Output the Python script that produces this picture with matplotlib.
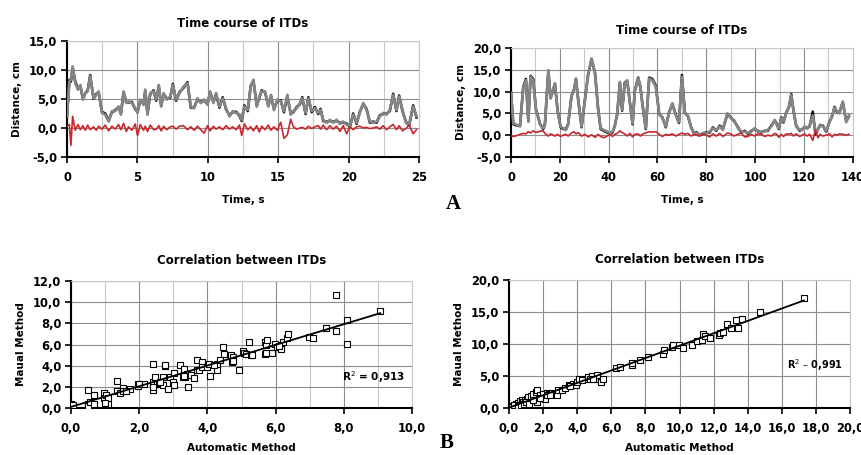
import numpy as np
import matplotlib
matplotlib.use('Agg')
import matplotlib.pyplot as plt
from matplotlib.ticker import MultipleLocator, FuncFormatter

# ---- panel A, left: 25 s recording ----
t_a = [0.00, 0.17, 0.28, 0.40, 0.59, 0.78, 0.95, 1.13, 1.30, 1.47,
       1.65, 1.89, 2.08, 2.25, 2.48, 2.72, 2.96, 3.19, 3.43, 3.66,
       3.83, 4.02, 4.21, 4.37, 4.61, 4.85, 5.01, 5.20, 5.44, 5.56,
       5.72, 5.91, 6.15, 6.34, 6.52, 6.69, 6.86, 7.09, 7.33, 7.52,
       7.75, 7.99, 8.27, 8.56, 8.79, 9.03, 9.27, 9.50, 9.74, 9.98,
       10.17, 10.40, 10.59, 10.83, 11.06, 11.30, 11.54, 11.77, 12.01, 12.25,
       12.41, 12.60, 12.84, 13.05, 13.24, 13.48, 13.66, 13.83, 14.07, 14.30,
       14.49, 14.70, 14.94, 15.18, 15.41, 15.65, 15.89, 16.08, 16.31, 16.55,
       16.71, 16.95, 17.14, 17.38, 17.61, 17.85, 18.01, 18.20, 18.44, 18.68,
       18.91, 19.15, 19.39, 19.62, 19.86, 20.09, 20.33, 20.57, 20.80, 21.04,
       21.28, 21.51, 21.75, 21.99, 22.22, 22.46, 22.70, 22.93, 23.17, 23.40,
       23.59, 23.83, 24.07, 24.30, 24.59, 24.82]
gray_a = [2.0, 8.0, 8.3, 10.6, 7.7, 6.6, 7.4, 4.9, 6.0, 6.3,
          8.9, 5.1, 5.7, 6.3, 2.6, 2.3, 1.1, 2.9, 2.9, 3.7,
          2.3, 6.3, 4.3, 4.6, 4.3, 3.4, 2.6, 4.9, 4.0, 6.6,
          2.3, 6.0, 6.3, 4.9, 7.4, 3.7, 6.0, 4.9, 5.4, 7.4,
          4.9, 6.0, 7.1, 7.7, 3.7, 3.4, 5.1, 4.3, 4.9, 4.0,
          6.3, 4.3, 6.0, 3.7, 5.1, 3.4, 2.0, 2.9, 2.6, 2.3,
          1.4, 3.7, 3.1, 7.1, 8.3, 3.7, 5.4, 6.3, 6.3, 3.7,
          5.7, 3.1, 4.9, 4.6, 2.9, 5.7, 2.3, 2.9, 3.4, 4.3,
          5.1, 2.6, 5.1, 2.9, 3.4, 2.6, 3.1, 1.4, 0.9, 1.4,
          0.9, 1.4, 0.7, 1.1, 0.6, 0.3, 2.3, 0.9, 2.6, 4.3,
          3.1, 1.1, 0.9, 1.1, 2.0, 2.6, 2.3, 3.1, 5.7, 3.1,
          5.4, 3.1, 0.9, 0.6, 3.7, 2.0]
black_a = [2.0, 8.3, 8.0, 10.4, 8.0, 6.8, 7.2, 5.1, 6.0, 6.5,
           9.1, 5.0, 5.9, 6.1, 2.8, 2.5, 1.3, 2.7, 3.1, 3.6,
           2.5, 6.1, 4.5, 4.4, 4.5, 3.2, 2.8, 4.7, 4.2, 6.4,
           2.5, 5.8, 6.5, 4.7, 7.2, 3.9, 5.8, 5.1, 5.2, 7.6,
           4.7, 6.2, 6.9, 7.9, 3.5, 3.6, 4.9, 4.5, 4.7, 4.2,
           6.1, 4.5, 5.8, 3.5, 5.3, 3.2, 2.2, 2.7, 2.8, 2.1,
           1.2, 3.9, 2.9, 7.3, 8.1, 3.9, 5.2, 6.5, 6.1, 3.9,
           5.5, 3.3, 4.7, 4.8, 2.7, 5.5, 2.5, 2.7, 3.6, 4.1,
           5.3, 2.4, 5.3, 2.7, 3.6, 2.4, 3.3, 1.2, 1.1, 1.2,
           1.1, 1.2, 0.9, 0.9, 0.8, 0.1, 2.5, 0.7, 2.8, 4.1,
           3.3, 0.9, 1.1, 0.9, 2.2, 2.4, 2.5, 2.9, 5.9, 2.9,
           5.6, 2.9, 1.1, 0.4, 3.9, 1.8]
red_a = [0.3, 0.6, -3.0, 2.0, -0.4, 0.6, -0.3, 0.4, -0.4, 0.5,
         -0.3, 0.2, -0.4, 0.3, -0.2, 0.5, -0.5, 0.3, -0.2, 0.6,
         -0.3, 0.8, -0.6, 0.2, -0.4, 0.7, -1.3, 0.6, -0.4, 0.3,
         -0.6, 0.5, -0.3, -0.2, 0.4, -0.5, 0.3, -0.3, 0.2, 0.3,
         -0.2, 0.3, 0.4, -0.3, 0.2, -0.4, 0.3, -0.3, -0.9, 0.4,
         -0.5, 0.3, -0.2, 0.2, -0.3, 0.4, -0.2, 0.2, -0.3, 0.5,
         -1.3, 0.7, -0.3, 0.2, -0.5, 0.4, -0.7, 0.3, -0.3, 0.5,
         -0.4, 0.2, -0.4, 1.0, -1.8, -1.2, 1.5, 0.2, -0.2, 0.0,
         0.1, -0.2, 0.3, -0.1, 0.2, 0.4, -0.2, 0.5, -0.3, 0.4,
         -0.2, 0.3, -0.6, 0.4, -1.0, 0.2, -0.3, 0.2, 0.3, 0.0,
         0.1, -0.1, 0.0, 0.2, -0.2, 0.4, -0.3, 0.2, 0.6, -0.3,
         0.4, -0.5, -0.1, 0.5, -1.0, -0.3]

# ---- panel A, right: 140 s recording ----
t_b = [0.0, 0.95, 2.3, 3.7, 5.0, 6.1, 7.1, 8.0, 9.1, 10.2,
       11.9, 13.2, 13.9, 15.3, 16.2, 17.0, 18.0, 19.1, 20.3, 21.4,
       22.5, 23.4, 24.8, 25.8, 26.6, 27.5, 28.9, 30.3, 31.6, 33.0,
       34.4, 35.7, 36.7, 38.0, 39.4, 40.5, 41.6, 42.5, 43.5, 44.6,
       45.5, 46.6, 47.6, 48.7, 49.8, 50.7, 52.1, 53.0, 54.1, 55.2,
       56.6, 57.9, 59.3, 60.7, 62.0, 63.4, 64.7, 66.1, 67.5, 68.8,
       70.0, 71.2, 72.5, 73.8, 75.0, 75.9, 77.3, 78.7, 80.0, 81.4,
       82.7, 84.1, 85.5, 86.8, 88.6, 90.0, 91.3, 93.0, 94.3, 95.7,
       97.1, 98.4, 99.8, 101.1, 102.5, 103.9, 105.2, 106.6, 108.0, 108.6,
       109.7, 110.7, 111.6, 112.7, 113.8, 114.8, 115.7, 116.8, 118.2, 119.3,
       120.2, 121.3, 122.3, 123.6, 124.7, 125.7, 126.6, 127.7, 129.1, 130.5,
       131.5, 132.5, 133.5, 134.5, 135.9, 137.3, 138.4]
gray_b = [9.6, 2.7, 2.4, 2.0, 10.7, 12.6, 3.1, 13.4, 12.6, 5.8,
          2.4, 1.6, 2.4, 14.9, 8.4, 10.0, 11.9, 5.4, 2.0, 1.6,
          1.2, 2.4, 9.2, 10.3, 13.0, 8.1, 2.0, 8.1, 14.1, 17.6,
          14.1, 5.8, 1.6, 1.2, 0.8, 0.5, 0.8, 2.0, 5.0, 12.2,
          5.8, 11.9, 12.6, 7.3, 2.7, 10.0, 13.0, 11.1, 5.8, 1.6,
          13.0, 12.6, 11.1, 5.0, 3.9, 2.0, 5.0, 7.3, 4.5, 3.0,
          13.4, 5.0, 4.5, 1.6, 0.5, 0.5, 0.1, 0.5, 0.5, 0.8,
          1.6, 1.2, 2.0, 1.2, 5.0, 3.9, 3.5, 1.6, 0.8, 0.8,
          0.5, 0.8, 1.6, 0.8, 0.8, 0.8, 1.2, 2.0, 3.5, 2.7,
          1.6, 3.9, 3.1, 5.0, 6.5, 9.2, 5.8, 2.0, 1.2, 1.2,
          2.0, 1.5, 2.2, 4.5, 0.8, 1.2, 2.4, 2.0, 1.0, 3.0,
          4.5, 6.3, 5.5, 5.0, 7.7, 3.0, 4.5]
black_b = [9.8, 2.5, 2.2, 2.2, 11.0, 12.9, 3.3, 13.6, 12.9, 6.0,
           2.6, 1.4, 2.6, 14.7, 8.6, 9.8, 11.7, 5.6, 1.8, 1.4,
           1.4, 2.6, 9.0, 10.5, 12.8, 8.3, 1.8, 8.3, 13.9, 17.4,
           14.3, 6.0, 1.4, 1.0, 0.6, 0.3, 0.6, 2.2, 4.8, 12.0,
           5.6, 12.1, 12.4, 7.5, 2.5, 10.2, 13.2, 10.9, 6.0, 1.4,
           13.2, 12.9, 11.4, 4.8, 4.1, 1.8, 5.2, 7.1, 4.7, 2.8,
           13.8, 5.2, 4.3, 1.8, 0.3, 0.7, 0.0, 0.3, 0.7, 0.6,
           1.8, 1.0, 2.2, 1.4, 4.8, 4.1, 3.3, 1.8, 0.6, 1.0,
           0.3, 1.0, 1.4, 1.0, 0.6, 1.0, 1.0, 2.2, 3.3, 2.9,
           1.4, 4.1, 2.9, 5.2, 6.3, 9.4, 5.6, 2.2, 1.0, 1.4,
           1.8, 1.7, 2.0, 5.4, 0.2, 1.4, 2.2, 2.2, 0.8, 3.2,
           4.3, 6.5, 5.3, 5.2, 7.5, 3.2, 4.3]
red_b = [-0.2, -0.3, -0.1, 0.2, 0.4, 0.3, 0.8, 0.5, 1.0, 0.6,
         0.9, 1.0, 0.4, -0.2, 0.3, 0.1, -0.2, 0.2, -0.3, 0.0,
         0.2, -0.2, 0.5, 0.8, 0.3, 0.6, -0.2, 0.2, -0.4, 0.1,
         -0.5, 0.2, -0.3, -0.6, -0.2, 0.2, -0.3, 0.2, 0.4, 1.0,
         0.6, 0.3, -0.2, 0.4, -0.4, 0.2, 0.3, -0.2, 0.3, 0.5,
         0.8, 0.7, 0.8, 0.2, -0.3, 0.2, 0.0, 0.3, -0.2, 0.2,
         0.5, 0.2, 0.4, -0.2, 0.2, 0.0, -0.2, 0.3, 0.0, -0.4,
         0.3, -0.2, 0.4, -0.3, 0.5, 0.3, -0.2, 0.2, 0.5, -0.4,
         -0.3, 0.2, -0.2, 0.3, 0.2, -0.3, 0.0, -0.2, 0.4, 0.3,
         -0.5, 0.2, -0.3, 0.3, 0.2, 0.4, -0.2, 0.3, -0.3, 0.0,
         0.3, -0.2, 0.2, -1.2, 1.2, -0.6, 0.2, -0.2, 0.0, 0.3,
         -0.4, 0.2, 0.0, 0.3, 0.2, 0.0, 0.2]

# ---- panel B, left: automatic vs manual ----
auto_c = [0.0, 0.0, 0.49, 0.49, 0.5, 0.56, 0.68, 0.68, 0.98, 0.98,
          1.04, 1.07, 1.07, 1.34, 1.36, 1.44, 1.51, 1.53, 1.73, 1.97,
          1.97, 2.15, 2.41, 2.39, 2.41, 2.41, 2.46, 2.51, 2.59, 2.69,
          2.71, 2.77, 2.77, 2.85, 2.9, 3.0, 3.02, 3.03, 3.19, 3.29,
          3.34, 3.32, 3.39, 3.44, 3.51, 3.6, 3.68, 3.7, 3.76, 3.83,
          3.83, 4.0, 4.05, 4.07, 4.27, 4.29, 4.37, 4.46, 4.5, 4.68,
          4.71, 4.76, 4.76, 4.93, 5.03, 5.07, 5.12, 5.22, 5.29, 5.68,
          5.68, 5.71, 5.76, 5.73, 5.88, 5.98, 6.04, 6.17, 6.17, 6.22,
          6.32, 6.35, 6.97, 7.1, 7.47, 7.78, 7.78, 8.08, 8.08, 9.07,
          1.0, 0.05, 2.4, 2.6, 3.3, 4.2, 5.3, 1.6, 2.0, 6.1]
man_c = [0.4, 0.0, 1.67, 0.4, 0.2, 0.55, 1.2, 0.4, 1.42, 0.9,
         1.2, 0.4, 0.9, 2.56, 1.58, 1.42, 1.93, 1.58, 1.83, 2.24,
         2.08, 2.3, 4.2, 2.15, 1.74, 2.46, 2.94, 2.24, 2.37, 2.94,
         2.15, 3.95, 4.1, 1.83, 2.94, 2.46, 3.32, 2.15, 4.04, 2.94,
         2.94, 3.73, 3.25, 1.99, 3.1, 2.87, 4.52, 3.57, 3.63, 4.36,
         3.88, 3.88, 4.2, 3.03, 4.2, 3.57, 4.52, 5.78, 5.15, 4.99,
         4.36, 4.83, 4.42, 3.63, 5.4, 5.21, 5.15, 6.25, 4.99, 6.25,
         5.15, 5.94, 6.41, 5.24, 5.21, 6.09, 5.78, 5.94, 5.62, 6.25,
         6.57, 7.04, 6.73, 6.66, 7.52, 10.67, 7.26, 8.3, 6.09, 9.16,
         0.5, 0.3, 2.0, 2.5, 3.0, 4.1, 5.0, 1.6, 2.3, 5.9]

# ---- panel B, right ----
auto_d = [0.06, 0.25, 0.4, 0.55, 0.65, 0.74, 0.84, 0.94, 1.04, 1.13,
          1.19, 1.29, 1.43, 1.58, 1.66, 1.66, 1.82, 2.01, 2.11, 2.21,
          2.35, 2.5, 2.8, 2.85, 3.09, 3.28, 3.54, 3.77, 3.93, 3.97,
          4.12, 4.46, 4.65, 4.75, 4.85, 5.04, 5.14, 5.38, 5.53, 6.28,
          6.51, 7.19, 7.19, 7.68, 8.17, 9.05, 9.09, 9.54, 9.6, 9.99,
          10.22, 10.71, 11.01, 11.3, 11.36, 11.5, 11.79, 12.34, 12.38, 12.57,
          12.77, 13.0, 13.31, 13.45, 13.65, 14.72, 17.3,
          0.15, 0.3, 0.5, 0.7, 0.9, 1.0, 1.2, 1.4, 1.8, 2.2,
          2.4, 3.6, 4.3, 4.9]
man_d = [0.0, 0.26, 0.57, 0.78, 1.1, 1.3, 0.94, 1.2, 1.46, 1.72,
         0.94, 1.83, 2.14, 2.5, 0.94, 2.77, 1.98, 2.25, 1.46, 2.35,
         2.25, 2.4, 1.98, 2.77, 2.87, 3.19, 3.55, 3.81, 3.55, 4.02,
         4.6, 4.6, 4.86, 4.6, 4.96, 4.6, 5.12, 4.07, 4.6, 6.27,
         6.42, 6.68, 7.05, 7.47, 7.99, 8.51, 9.03, 9.56, 9.82, 9.82,
         9.45, 9.82, 10.44, 10.6, 11.64, 11.23, 11.02, 11.38, 11.75, 11.91,
         13.21, 12.58, 13.73, 12.58, 13.89, 15.04, 17.23,
         0.1, 0.4, 0.3, 0.5, 0.6, 1.0, 0.7, 1.3, 1.6, 2.0,
         2.1, 3.4, 4.4, 4.5]

r2_c = 'R$^2$ = 0,913'
r2_d = 'R$^2$ – 0,991'

GRID_MAJ = '#8c8c8c'
GRID_MIN = '#c8c8c8'
RED = '#c8282d'


def comma(dec):
    def f(v, pos):
        return ('{:.%df}' % dec).format(v).replace('.', ',')
    return FuncFormatter(f)


def style(ax, xmaj, xmin, ymaj, xdec, ydec):
    ax.set_axisbelow(True)
    ax.xaxis.set_major_locator(MultipleLocator(xmaj))
    if xmin:
        ax.xaxis.set_minor_locator(MultipleLocator(xmin))
        ax.grid(True, which='minor', axis='x', color=GRID_MIN, lw=0.8)
    ax.yaxis.set_major_locator(MultipleLocator(ymaj))
    ax.grid(True, which='major', color=GRID_MAJ, lw=0.8)
    ax.xaxis.set_major_formatter(comma(xdec))
    ax.yaxis.set_major_formatter(comma(ydec))
    ax.tick_params(which='minor', length=0)
    ax.tick_params(which='major', direction='out', length=4, width=1.2,
                   labelsize=8.3, pad=3)
    ax.tick_params(axis='x', which='major', pad=6)
    for lbl in ax.get_xticklabels() + ax.get_yticklabels():
        lbl.set_fontweight('bold')
    for s in ('left', 'bottom'):
        ax.spines[s].set_linewidth(1.5)
        ax.spines[s].set_color('black')
    for s in ('top', 'right'):
        ax.spines[s].set_color(GRID_MIN)
        ax.spines[s].set_linewidth(0.8)


fig = plt.figure(figsize=(8.61, 4.55), dpi=100)
fig.patch.set_facecolor('white')

ax1 = fig.add_axes([0.0778, 0.655, 0.4088, 0.255])
ax2 = fig.add_axes([0.5935, 0.655, 0.397, 0.2396])
ax3 = fig.add_axes([0.0825, 0.1033, 0.396, 0.279])
ax4 = fig.add_axes([0.5912, 0.1033, 0.396, 0.281])

# time courses
for ax, t, blk, gry, red, xmax, ymax in ((ax1, t_a, black_a, gray_a, red_a, 25, 15),
                                         (ax2, t_b, black_b, gray_b, red_b, 140, 20)):
    ax.plot(t, blk, color='black', lw=1.8, zorder=3)
    ax.plot(t, gry, color='#858585', lw=2.0, zorder=4)
    ax.plot(t, red, color=RED, lw=1.2, zorder=5)
    ax.set_xlim(0, xmax)
    ax.set_ylim(-5, ymax)
    ax.set_title('Time course of ITDs', fontsize=8.5, fontweight='bold', pad=10)
    ax.set_xlabel('Time, s', fontsize=7.5, fontweight='bold', labelpad=8)
    ax.set_ylabel('Distance, cm', fontsize=7.5, fontweight='bold', labelpad=5)

style(ax1, 5, 2.5, 5, 0, 1)
style(ax2, 20, 10, 5, 0, 1)

# correlations
for ax, x, y, xmax, ymax in ((ax3, auto_c, man_c, 10, 12),
                             (ax4, auto_d, man_d, 20, 20)):
    ax.plot(x, y, linestyle='none', marker='s', markersize=5,
            markerfacecolor='white', markeredgecolor='black',
            markeredgewidth=0.8, zorder=3)
    k, b = np.polyfit(x, y, 1)
    xx = np.array([0, max(x)])
    ax.plot(xx, k * xx + b, color='black', lw=1.3, zorder=4)
    ax.set_xlim(0, xmax)
    ax.set_ylim(0, ymax)
    ax.set_title('Correlation between ITDs', fontsize=8.5, fontweight='bold', pad=12)
    ax.set_xlabel('Automatic Method', fontsize=7.5, fontweight='bold', labelpad=6)
    ax.set_ylabel('Maual Method', fontsize=7.5, fontweight='bold', labelpad=5)

style(ax3, 2, 1, 2, 1, 1)
style(ax4, 2, None, 5, 1, 1)

ax3.text(9.8, 2.9, r2_c, fontsize=7.5, fontweight='bold', ha='right', va='center')
ax4.text(19.6, 6.7, r2_d, fontsize=7, fontweight='bold', ha='right', va='center')

fig.text(453 / 861, 1 - 204 / 455, 'A', fontsize=15, fontweight='bold',
         family='Liberation Serif', ha='center', va='center')
fig.text(447 / 861, 1 - 443 / 455, 'B', fontsize=15, fontweight='bold',
         family='Liberation Serif', ha='center', va='center')

fig.savefig('out.png', dpi=100, facecolor='white')
